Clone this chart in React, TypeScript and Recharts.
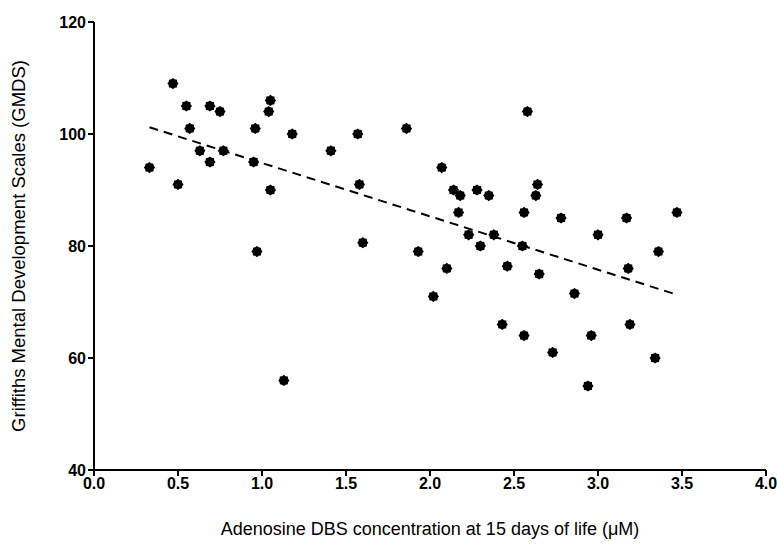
import React from 'react';
import { ScatterChart, Scatter, XAxis, YAxis } from 'recharts';

// adenosine (uM) vs GMDS score
const adenosine = [
  0.33, 0.47, 0.50, 0.55, 0.57, 0.63, 0.69, 0.69, 0.75, 0.77,
  0.95, 0.96, 0.97, 1.04, 1.05, 1.05, 1.13, 1.18, 1.41, 1.57,
  1.58, 1.60, 1.86, 1.93, 2.02, 2.07, 2.10, 2.14, 2.17, 2.18,
  2.23, 2.28, 2.30, 2.35, 2.38, 2.43, 2.46, 2.55, 2.56, 2.56,
  2.58, 2.63, 2.64, 2.65, 2.73, 2.78, 2.86, 2.94, 2.96, 3.00,
  3.17, 3.18, 3.19, 3.34, 3.36, 3.47,
];
const gmds = [
  94, 109, 91, 105, 101, 97, 105, 95, 104, 97,
  95, 101, 79, 104, 106, 90, 56, 100, 97, 100,
  91, 80.6, 101, 79, 71, 94, 76, 90, 86, 89,
  82, 90, 80, 89, 82, 66, 76.4, 80, 86, 64,
  104, 89, 91, 75, 61, 85, 71.5, 55, 64, 82,
  85, 76, 66, 60, 79, 86,
];
const fitX = [0.33, 3.47];
const fitY = [101.2, 71.3];
const xTicks = [0, 0.5, 1.0, 1.5, 2.0, 2.5, 3.0, 3.5, 4.0];
const yTicks = [40, 60, 80, 100, 120];

const points = adenosine.map((x, i) => ({ x, y: gmds[i] }));
const fit = fitX.map((x, i) => ({ x, y: fitY[i] }));

const Star = (props: any) => {
  const { cx, cy } = props;
  if (cx == null || cy == null) return null;
  const pts: string[] = [];
  for (let i = 0; i < 16; i++) {
    const r = i % 2 === 0 ? 5.6 : 4.6;
    const a = (Math.PI * 2 * i) / 16;
    pts.push(`${cx + r * Math.cos(a)},${cy + r * Math.sin(a)}`);
  }
  return <polygon points={pts.join(' ')} fill="#000" />;
};

const tickFont = { fontFamily: '"Liberation Sans", Arial, sans-serif', fontSize: 16, fontWeight: 700, fill: '#000' };
const labelFont = '"Liberation Sans", Arial, sans-serif';

export default function App() {
  return (
    <div style={{ position: 'absolute', left: 0, top: 0, width: 777, height: 544, background: '#fff' }}>
      <ScatterChart width={777} height={544} margin={{ top: 22, right: 11, bottom: 0, left: 0 }}>
        <XAxis
          type="number"
          dataKey="x"
          domain={[0, 4]}
          ticks={xTicks}
          tickFormatter={(v: number) => v.toFixed(1)}
          height={74}
          stroke="#000"
          strokeWidth={2}
          tickSize={6}
          tick={tickFont}
          label={{ value: 'Adenosine DBS concentration at 15 days of life (\u03bcM)', position: 'insideBottom', offset: 9, style: { fontFamily: labelFont, fontSize: 18, fill: '#000' } }}
        />
        <YAxis
          type="number"
          dataKey="y"
          domain={[40, 120]}
          ticks={yTicks}
          width={94}
          stroke="#000"
          strokeWidth={2}
          tickSize={6}
          tick={tickFont}
          label={{ value: 'Griffiths Mental Development Scales (GMDS)', angle: -90, position: 'insideLeft', offset: 18, style: { fontFamily: labelFont, fontSize: 18.5, fill: '#000', textAnchor: 'middle' } }}
        />
        <Scatter data={points} shape={<Star />} isAnimationActive={false} />
        <Scatter
          data={fit}
          line={{ stroke: '#000', strokeWidth: 2, strokeDasharray: '9 6' }}
          shape={() => null}
          isAnimationActive={false}
        />
      </ScatterChart>
    </div>
  );
}
